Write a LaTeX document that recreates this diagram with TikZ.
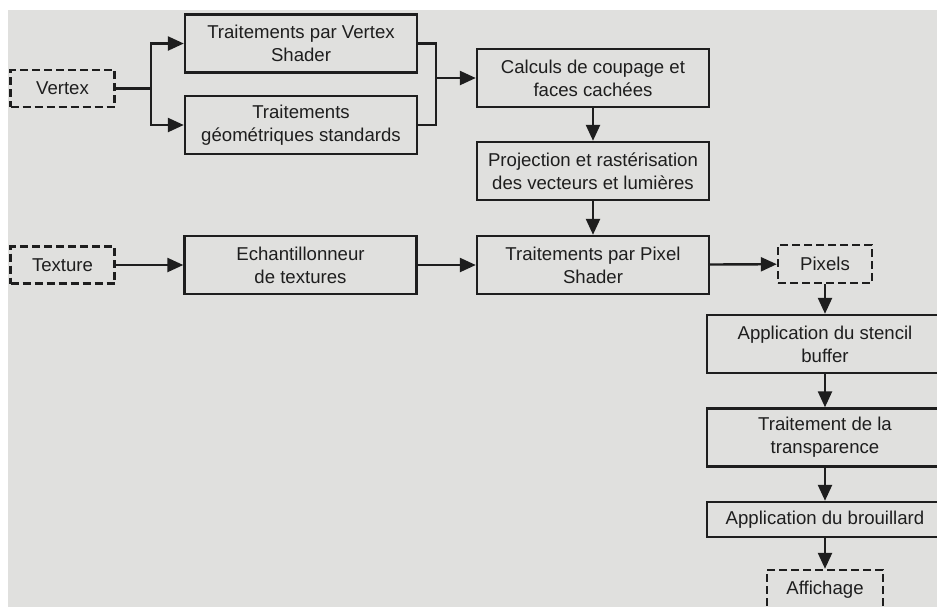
\documentclass[tikz,border=0pt]{standalone}
\usepackage{fontspec}
\setmainfont{Liberation Sans}
\usetikzlibrary{arrows.meta}
\tikzset{>={Triangle[length=8pt,width=7pt]}}
\definecolor{page}{RGB}{224,224,222}
\definecolor{ink}{RGB}{30,30,30}
\tikzset{
    stage/.style={draw=ink, text=ink, line width=1.2pt, align=center, inner sep=1pt,
        minimum width=116pt, minimum height=29pt,
        font=\fontsize{9.3}{11.5}\selectfont},
    io/.style={stage, dashed, dash pattern=on 4pt off 2pt,
        minimum width=52pt, minimum height=18.5pt},
    flow/.style={->, draw=ink, line width=1.2pt}
}

\begin{document}
\begin{tikzpicture}[x=0.5pt, y=-0.5pt]
    \clip (0,0) rectangle (937,607);
    \fill[white] (0,0) rectangle (937,607);
    \fill[page] (8,10) rectangle (937,607);
    \node[io] (vertex) at (62.5,88.5) {Vertex};
    \node[stage] (vs) at (301,43.5) {Traitements par Vertex\\Shader};
    \node[stage] (geom) at (301,125) {Traitements\\géométriques standards};
    \node[stage] (calc) at (593,78) {Calculs de coupage et\\faces cachées};
    \node[stage] (proj) at (593,171) {Projection et rastérisation\\des vecteurs et lumières};
    \node[io] (tex) at (62.5,265) {Texture};
    \node[stage] (ech) at (300.5,265) {Echantillonneur\\de textures};
    \node[stage] (ps) at (593,265) {Traitements par Pixel\\Shader};
    \node[io, minimum width=47pt, minimum height=19pt] (pix) at (825,264) {Pixels};
    \node[stage, minimum width=118pt] (sten) at (825,344) {Application du stencil\\buffer};
    \node[stage, minimum width=118pt] (transp) at (825,437.5) {Traitement de la\\transparence};
    \node[stage, minimum width=118pt, minimum height=17.5pt] (brou) at (825,519.5) {Application du brouillard};
    \node[io, minimum width=58pt, minimum height=20pt] (aff) at (825,590) {Affichage};
    \coordinate (fork) at ([xshift=17.5pt]vertex.east);
    \coordinate (merge) at ([xshift=-20pt]calc.west);
    \draw[ink, line width=1.2pt] (vertex.east) -- (fork);
    \draw[flow] (fork) |- (vs.west);
    \draw[flow] (fork) |- (geom.west);
    \draw[ink, line width=1.2pt] (vs.east) -| (merge) |- (geom.east);
    \draw[flow] (merge) -- (calc.west);
    \draw[flow] (calc) -- (proj);
    \draw[flow] (proj) -- (ps);
    \draw[flow] (tex) -- (ech);
    \draw[flow] (ech) -- (ps);
    \draw[flow] (ps) -- (pix);
    \draw[flow] (pix) -- (sten);
    \draw[flow] (sten) -- (transp);
    \draw[flow] (transp) -- (brou);
    \draw[flow] (brou) -- (aff);
\end{tikzpicture}
\end{document}
